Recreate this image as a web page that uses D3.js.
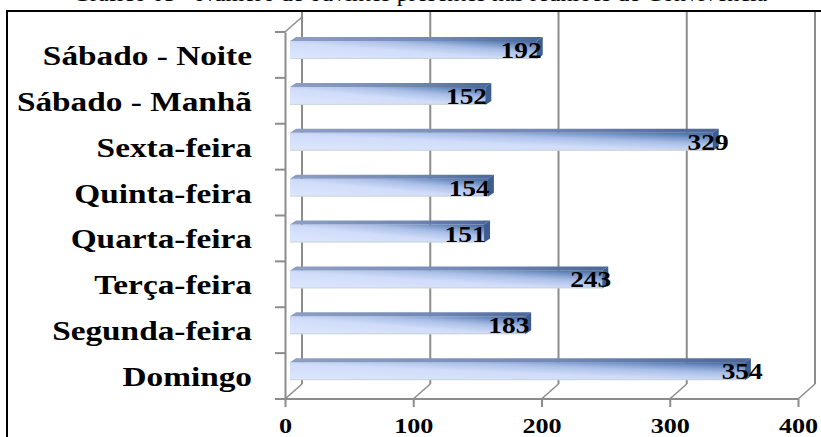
<!DOCTYPE html>
<html>
<head>
<meta charset="utf-8">
<script src="https://cdn.jsdelivr.net/npm/d3@7"></script>
<style>
  html, body { margin: 0; padding: 0; background: #fff; overflow: hidden; }
  svg { display: block; }
  text { font-family: "Liberation Serif", "Times New Roman", serif; font-weight: bold; fill: #000; }
</style>
</head>
<body>
<div id="chart"></div>
<script>
// data, top to bottom as in the picture
var categories = ["Sábado - Noite", "Sábado - Manhã", "Sexta-feira", "Quinta-feira",
                  "Quarta-feira", "Terça-feira", "Segunda-feira", "Domingo"];
var values = [192, 152, 329, 154, 151, 243, 183, 354];
var xTicks = [0, 100, 200, 300, 400];
var title = "Gráfico 03 - Número de ouvintes presentes nas reuniões de Convivência";

var W = 821, H = 437;
var depthX = 17, depthY = -15;   // offset of the back wall
var stretch = 1.19;              // text in the picture is a bit wide

var svg = d3.select("#chart").append("svg").attr("width", W).attr("height", H);

var defs = svg.append("defs");
var grad = defs.append("linearGradient").attr("id", "barGrad")
    .attr("x1", 0).attr("y1", 1).attr("x2", 1).attr("y2", 0);
[[0, "#dde7fe"], [0.45, "#d0dcf9"], [0.68, "#a9bee6"], [0.84, "#7493c6"], [1, "#3f6399"]]
  .forEach(function(s){ grad.append("stop").attr("offset", s[0]).attr("stop-color", s[1]); });
var topGrad = defs.append("linearGradient").attr("id", "topGrad")
    .attr("x1", 0).attr("y1", 0).attr("x2", 1).attr("y2", 0);
[[0, "#8e9fc2"], [0.6, "#7188b5"], [1, "#4a6697"]]
  .forEach(function(s){ topGrad.append("stop").attr("offset", s[0]).attr("stop-color", s[1]); });

// title (cut off at the top of the picture)
svg.append("text").attr("x", 420).attr("y", 0.7).attr("text-anchor", "middle")
  .style("font-weight", "normal").style("font-size", "24px").text(title);

// frame
svg.append("rect").attr("x", 7).attr("y", 11).attr("width", W + 10).attr("height", H + 10)
  .attr("fill", "none").attr("stroke", "#000").attr("stroke-width", 2);

// scales
var x = d3.scaleLinear().domain([0, 400]).range([285, 798]);      // front plane
var xBar = d3.scaleLinear().domain([0, 400]).range([290, 804]);   // bars
var xLab = d3.scaleLinear().domain([0, 400]).range([259, 805]);   // data labels
var y = d3.scaleBand().domain(categories).range([32, 399]).paddingInner(0).paddingOuter(0);

var axisCol = "#8c8c8c";
var yBottom = y.range()[1], yTop = y.range()[0];

// back wall gridlines + floor diagonals
var grid = svg.append("g");
xTicks.forEach(function(t){
  grid.append("line").attr("x1", x(t) + depthX).attr("x2", x(t) + depthX)
    .attr("y1", yBottom + depthY).attr("y2", 12)
    .attr("stroke", axisCol).attr("stroke-width", 2);
  grid.append("line").attr("x1", x(t)).attr("y1", yBottom)
    .attr("x2", x(t) + depthX).attr("y2", yBottom + depthY)
    .attr("stroke", axisCol).attr("stroke-width", 1.5);
});
// left wall top diagonal
grid.append("line").attr("x1", x(0)).attr("y1", yTop)
  .attr("x2", x(0) + depthX).attr("y2", yTop + depthY)
  .attr("stroke", axisCol).attr("stroke-width", 1.5);

// x axis (front)
var xAxis = d3.axisBottom(x).tickValues(xTicks).tickSize(8).tickPadding(6).tickSizeOuter(0);
var gx = svg.append("g").attr("transform", "translate(0," + yBottom + ")").call(xAxis);
gx.select(".domain").attr("d", "M275,0H" + x(400)).attr("stroke", axisCol).attr("stroke-width", 2);
gx.selectAll(".tick line").attr("stroke", axisCol).attr("stroke-width", 2);
gx.selectAll(".tick text").attr("y", 0).attr("dy", null)
  .attr("transform", function(d){ return "translate(0,34) scale(" + stretch + ",1)"; })
  .style("font-size", "22px").style("font-family", "'Liberation Serif', serif").style("font-weight", "bold")
  .attr("fill", "#000");

// y axis (front)
var yAxis = d3.axisLeft(y).tickSize(0).tickPadding(0);
var gy = svg.append("g").attr("transform", "translate(" + x(0) + ",0)").call(yAxis);
gy.select(".domain").attr("stroke", axisCol).attr("stroke-width", 2);
gy.selectAll(".tick text").remove();
var bounds = categories.map(function(c){ return y(c); }).concat([yBottom]);
gy.selectAll(".bound").data(bounds).enter().append("line")
  .attr("x1", -10).attr("x2", 0).attr("y1", function(d){ return d; }).attr("y2", function(d){ return d; })
  .attr("stroke", axisCol).attr("stroke-width", 2);

// category labels
svg.append("g").selectAll("text").data(categories).enter().append("text")
  .attr("text-anchor", "end")
  .attr("transform", function(d){ return "translate(252," + (y(d) + y.bandwidth() / 2 + 10) + ") scale(" + stretch + ",1)"; })
  .style("font-size", "28px")
  .text(function(d){ return d; });

// bars
var capX = 6, capY = -4;
var bars = svg.append("g").selectAll("g").data(values).enter().append("g");
bars.append("rect")
  .attr("x", xBar(0))
  .attr("y", function(d, i){ return y(categories[i]) + 9; })
  .attr("width", function(d){ return xBar(d) - xBar(0); })
  .attr("height", 18)
  .attr("fill", "url(#barGrad)");
bars.append("path")
  .attr("d", function(d, i){
    var t = y(categories[i]) + 9;
    return "M" + xBar(0) + "," + t + "L" + (xBar(0) + capX) + "," + (t + capY) +
      "L" + (xBar(d) + capX) + "," + (t + capY) + "L" + xBar(d) + "," + t + "Z";
  })
  .attr("fill", "url(#topGrad)");
bars.append("path")
  .attr("d", function(d, i){
    var t = y(categories[i]) + 9;
    return "M" + xBar(d) + "," + t + "L" + (xBar(d) + capX) + "," + (t + capY) +
      "L" + (xBar(d) + capX) + "," + (t + 18 + capY) + "L" + xBar(d) + "," + (t + 18) + "Z";
  })
  .attr("fill", "#3d5d90");
bars.append("line")
  .attr("x1", xBar(0)).attr("x2", function(d){ return xBar(d); })
  .attr("y1", function(d, i){ return y(categories[i]) + 26.5; })
  .attr("y2", function(d, i){ return y(categories[i]) + 26.5; })
  .attr("stroke", "#c3cdb8").attr("stroke-width", 1).attr("opacity", 0.6);

// data labels
bars.append("text")
  .attr("text-anchor", "middle")
  .attr("transform", function(d, i){
    return "translate(" + xLab(d) + "," + (y(categories[i]) + 26) + ") scale(" + stretch + ",1)";
  })
  .style("font-size", "23px")
  .text(function(d){ return d; });
</script>
</body>
</html>
